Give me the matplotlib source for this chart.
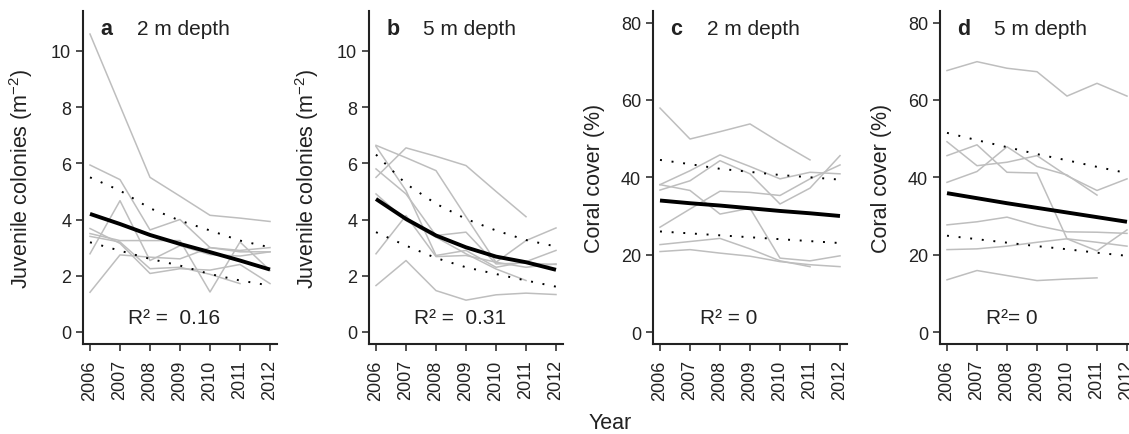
"""
Juvenile colony density and coral cover, 2006-2012, at 2 m and 5 m depth.
Grey lines = individual sites, black = fitted trend, dotted = confidence band.
"""

import numpy as np
import matplotlib
matplotlib.use("Agg")
import matplotlib.pyplot as plt

nan = np.nan

# ----------------------------
# 1. Data
# ----------------------------
years = [2006, 2007, 2008, 2009, 2010, 2011, 2012]

# a: juveniles, 2 m
juv_2m_sites = [
    [10.6, 8.05, 5.5, 4.83, 4.15, 4.05, 3.93],
    [5.94, 5.42, 3.63, 4.0, 3.0, 2.9, 3.0],
    [3.5, 3.25, 3.25, 3.25, 1.42, 3.2, 2.19],
    [2.78, 4.67, 2.54, 3.07, 2.75, 2.7, 2.85],
    [3.68, 3.15, 2.08, 2.25, 2.2, 2.4, 1.72],
    [3.4, 3.2, 2.25, 2.3, 2.05, 1.72, nan],
    [1.41, 2.74, 2.66, 2.6, 3.0, 2.85, 2.85],
]
juv_2m_fit = [4.2, 3.84, 3.45, 3.13, 2.84, 2.54, 2.22]
juv_2m_upper = [5.5, 5.03, 4.4, 3.96, 3.61, 3.25, 3.01]
juv_2m_lower = [3.19, 2.89, 2.6, 2.36, 2.06, 1.83, 1.65]

# b: juveniles, 5 m
juv_5m_sites = [
    [5.5, 6.55, 6.25, 5.92, 5.0, 4.1, nan],
    [6.64, 6.2, 5.74, 4.1, 2.48, 2.3, 2.42],
    [6.6, 5.03, 2.72, 2.9, 2.3, 2.5, 2.9],
    [5.8, 4.91, 3.43, 3.55, 2.42, 2.45, 2.4],
    [4.91, 3.96, 3.37, 2.78, 2.24, 1.83, nan],
    [2.78, 4.14, 2.68, 2.72, 2.48, 3.25, 3.7],
    [1.65, 2.54, 1.47, 1.13, 1.32, 1.38, 1.33],
]
juv_5m_fit = [4.73, 4.02, 3.43, 3.01, 2.68, 2.48, 2.21]
juv_5m_upper = [6.31, 5.27, 4.56, 4.02, 3.61, 3.27, 3.04]
juv_5m_lower = [3.55, 3.07, 2.63, 2.3, 2.06, 1.83, 1.61]

# c: coral cover, 2 m
cov_2m_sites = [
    [57.9, 49.9, 51.8, 53.8, 49.0, 44.5, nan],
    [38.1, 41.7, 45.8, 42.8, 39.6, 41.3, 40.9],
    [36.7, 39.1, 44.3, 40.9, 33.1, 37.2, 45.6],
    [38.1, 36.6, 30.5, 32.0, 19.1, 18.4, 19.7],
    [27.1, 31.8, 36.4, 36.1, 35.3, 39.6, 43.2],
    [22.6, 23.4, 24.2, 21.5, 18.4, 16.9, nan],
    [20.8, 21.3, 20.4, 19.6, 18.2, 17.4, 16.9],
]
cov_2m_fit = [34.0, 33.3, 32.7, 32.0, 31.3, 30.7, 30.0]
cov_2m_upper = [44.5, 43.4, 42.2, 41.4, 40.6, 40.0, 39.4]
cov_2m_lower = [26.0, 25.5, 25.0, 24.5, 24.0, 23.5, 23.0]

# d: coral cover, 5 m
cov_5m_sites = [
    [67.6, 69.9, 68.2, 67.3, 61.0, 64.3, 61.0],
    [49.2, 43.0, 43.9, 45.6, 40.4, 36.6, 39.6],
    [45.6, 48.4, 41.3, 41.1, 24.1, 21.0, 26.4],
    [38.7, 41.5, 47.9, 42.8, 40.6, 35.4, nan],
    [27.7, 28.5, 29.7, 27.5, 25.9, 25.8, 25.5],
    [21.3, 21.5, 22.2, 23.2, 24.1, 23.2, 22.2],
    [13.5, 15.9, 14.6, 13.3, 13.7, 14.0, nan],
]
cov_5m_fit = [35.9, 34.6, 33.3, 32.1, 30.9, 29.7, 28.5]
cov_5m_upper = [51.5, 49.6, 47.8, 46.0, 44.4, 42.7, 41.1]
cov_5m_lower = [24.9, 24.0, 23.1, 22.2, 21.4, 20.5, 19.7]

panel_letters = ["a", "b", "c", "d"]
panel_depths = ["2 m depth", "5 m depth", "2 m depth", "5 m depth"]
r2_labels = ["R\u00b2 =  0.16", "R\u00b2 =  0.31", "R\u00b2 = 0", "R\u00b2= 0"]
juv_label = r"Juvenile colonies (m$^{\mathregular{-2}}$)"
cov_label = "Coral cover (%)"

# ----------------------------
# 2. Plot
# ----------------------------
plt.rcParams["font.family"] = ["Liberation Sans", "DejaVu Sans"]
plt.rcParams["mathtext.fontset"] = "custom"
plt.rcParams["mathtext.rm"] = "Liberation Sans"

fig = plt.figure(figsize=(11.29, 4.35), dpi=100)
W, H = 1129.0, 435.0

panels = [
    (juv_2m_sites, juv_2m_fit, juv_2m_upper, juv_2m_lower, juv_label, [0, 2, 4, 6, 8, 10], (-0.43, 11.42)),
    (juv_5m_sites, juv_5m_fit, juv_5m_upper, juv_5m_lower, juv_label, [0, 2, 4, 6, 8, 10], (-0.43, 11.42)),
    (cov_2m_sites, cov_2m_fit, cov_2m_upper, cov_2m_lower, cov_label, [0, 20, 40, 60, 80], (-3.1, 83.0)),
    (cov_5m_sites, cov_5m_fit, cov_5m_upper, cov_5m_lower, cov_label, [0, 20, 40, 60, 80], (-3.1, 83.0)),
]
lefts = [83, 369, 653, 940]
r2_x = [0.47, 0.47, 0.39, 0.37]

for i, (sites, fit, upper, lower, ylab, yticks, ylim) in enumerate(panels):
    ax = fig.add_axes([lefts[i] / W, (H - 345) / H, 194 / W, 333 / H])

    for s in sites:
        ax.plot(years, s, color="#bebebe", lw=1.1, zorder=1)
    ax.plot(years, upper, color="black", lw=1.4, ls=(0, (1, 5)), zorder=2)
    ax.plot(years, lower, color="black", lw=1.4, ls=(0, (1, 5)), zorder=2)
    ax.plot(years, fit, color="black", lw=2.8, zorder=3, solid_capstyle="butt")

    ax.set_xlim(2006 - 7 / 30, 2012 + 7 / 30)
    ax.set_ylim(*ylim)
    ax.set_xticks(years)
    ax.set_xticklabels([str(y) for y in years], rotation=90)
    ax.set_yticks(yticks)

    for side in ["top", "right"]:
        ax.spines[side].set_visible(False)
    for side in ["left", "bottom"]:
        ax.spines[side].set_linewidth(1.5)
        ax.spines[side].set_color("#222222")
    ax.tick_params(axis="both", direction="out", length=5, width=1.1,
                   color="#222222", labelsize=13, labelcolor="#222222")
    ax.tick_params(axis="x", pad=6)
    ax.tick_params(axis="y", pad=3.5)

    ax.set_ylabel(ylab, fontsize=15.5, color="#222222")
    ax.yaxis.set_label_coords(-0.245, 0.5)

    ax.text(0.09, 0.931, panel_letters[i], transform=ax.transAxes,
            fontsize=15.5, fontweight="bold", color="#222222")
    ax.text(0.28, 0.931, panel_depths[i], transform=ax.transAxes,
            fontsize=15, color="#222222")
    ax.text(r2_x[i], 0.063, r2_labels[i], transform=ax.transAxes,
            fontsize=15, ha="center", color="#222222")

fig.text(610 / W, 11 / H, "Year", ha="center", va="center",
         fontsize=15.5, color="#222222")

plt.savefig("out.png", dpi=100)
print("Saved: out.png")
